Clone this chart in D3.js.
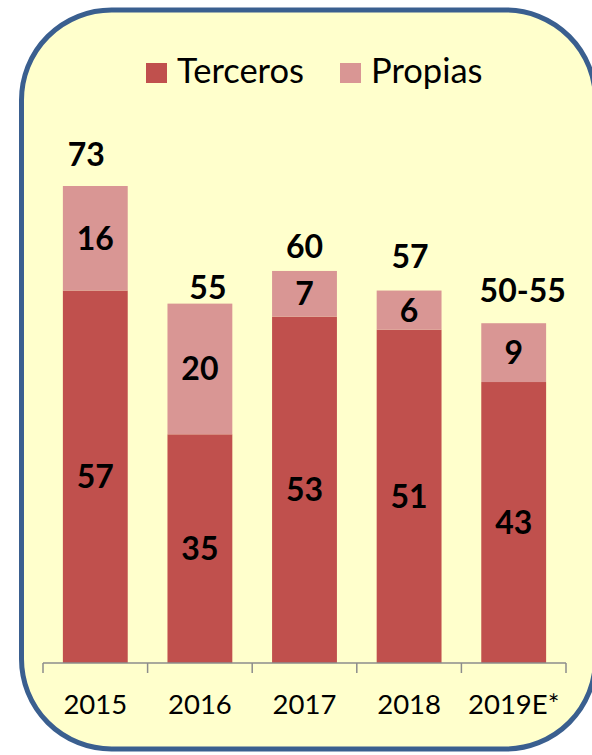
<!DOCTYPE html>
<html>
<head>
<meta charset="utf-8">
<script src="https://cdn.jsdelivr.net/npm/d3@7"></script>
<style>
  html, body { margin: 0; padding: 0; background: #fff; }
  svg { display: block; font-family: Lato, "Open Sans", sans-serif; }
</style>
</head>
<body>
<svg id="chart"></svg>
<script>
const years = ["2015", "2016", "2017", "2018", "2019E*"];
const terceros = [57, 35, 53, 51, 43];
const propias = [16, 20, 7, 6, 9];
const totalLabels = ["73", "55", "60", "57", "50-55"];

// nudges for the total labels, as Excel placed them [dx, dy]
const totalNudge = [[-9, -20], [8, -5], [0, -13], [1, -23], [9, -21]];

const width = 592;
const height = 755;
const baseY = 663;
const left = 43;
const right = 566;

const svg = d3.select("#chart").attr("width", width).attr("height", height);

// Background frame
svg
  .append("rect")
  .attr("x", 21.5)
  .attr("y", 10)
  .attr("width", 574)
  .attr("height", 739)
  .attr("rx", 90)
  .attr("ry", 90)
  .attr("fill", "#ffffcc")
  .attr("stroke", "#3a5f8f")
  .attr("stroke-width", 5);

const data = years.map((y, i) => ({
  year: y,
  terceros: terceros[i],
  propias: propias[i],
  total: totalLabels[i],
  nudge: totalNudge[i],
}));

const xScale = d3.scaleBand().domain(years).range([left, right]).paddingInner(0.38).paddingOuter(0.19);

// 73 units -> 477 px
const yScale = d3.scaleLinear().domain([0, 73]).range([baseY, 186]);

const colors = { terceros: "#c0504d", propias: "#d99694" };

const stack = d3.stack().keys(["terceros", "propias"])(data);

const groups = svg
  .selectAll(".series")
  .data(stack)
  .enter()
  .append("g")
  .attr("class", "series")
  .attr("fill", (s) => colors[s.key]);

groups
  .selectAll("rect")
  .data((s) => s)
  .enter()
  .append("rect")
  .attr("x", (d) => xScale(d.data.year))
  .attr("y", (d) => yScale(d[1]))
  .attr("width", xScale.bandwidth())
  .attr("height", (d) => yScale(d[0]) - yScale(d[1]));

// Segment labels
groups
  .selectAll("text")
  .data((s) => s.map((d) => ({ d, key: s.key })))
  .enter()
  .append("text")
  .attr("x", (o) => xScale(o.d.data.year) + xScale.bandwidth() / 2)
  .attr("y", (o) => (yScale(o.d[0]) + yScale(o.d[1])) / 2)
  .attr("dy", "0.36em")
  .attr("text-anchor", "middle")
  .attr("fill", "#000")
  .attr("font-size", 32)
  .attr("font-weight", "bold")
  .text((o) => o.d.data[o.key]);

// Total labels
svg
  .selectAll(".total")
  .data(data)
  .enter()
  .append("text")
  .attr("class", "total")
  .attr("x", (d) => xScale(d.year) + xScale.bandwidth() / 2 + d.nudge[0])
  .attr("y", (d) => yScale(d.terceros + d.propias) + d.nudge[1])
  .attr("text-anchor", "middle")
  .attr("font-size", 32)
  .attr("font-weight", "bold")
  .text((d) => d.total);

// X-axis
const axisScale = d3.scaleLinear().domain([0, years.length]).range([left, right]);
const axis = svg.append("g").attr("stroke", "#8c8c8c").attr("stroke-width", 1.5);
axis
  .append("line")
  .attr("x1", left)
  .attr("x2", right)
  .attr("y1", baseY)
  .attr("y2", baseY);
axis
  .selectAll(".tick")
  .data(d3.range(years.length + 1))
  .enter()
  .append("line")
  .attr("x1", (i) => axisScale(i))
  .attr("x2", (i) => axisScale(i))
  .attr("y1", baseY)
  .attr("y2", baseY + 10);

svg
  .selectAll(".xlabel")
  .data(years)
  .enter()
  .append("text")
  .attr("class", "xlabel")
  .attr("x", (d, i) => (axisScale(i) + axisScale(i + 1)) / 2)
  .attr("y", 714)
  .attr("text-anchor", "middle")
  .attr("font-size", 27.5)
  .text((d) => d);

// Legend
const legendItems = [
  { key: "terceros", label: "Terceros", x: 146 },
  { key: "propias", label: "Propias", x: 340 },
];
const legend = svg
  .selectAll(".legend")
  .data(legendItems)
  .enter()
  .append("g")
  .attr("class", "legend")
  .attr("transform", (d) => `translate(${d.x}, 63)`);
legend
  .append("rect")
  .attr("width", 21)
  .attr("height", 20)
  .attr("fill", (d) => colors[d.key]);
legend
  .append("text")
  .attr("x", 31)
  .attr("y", 20)
  .attr("font-size", 34.5)
  .text((d) => d.label);
</script>
</body>
</html>
